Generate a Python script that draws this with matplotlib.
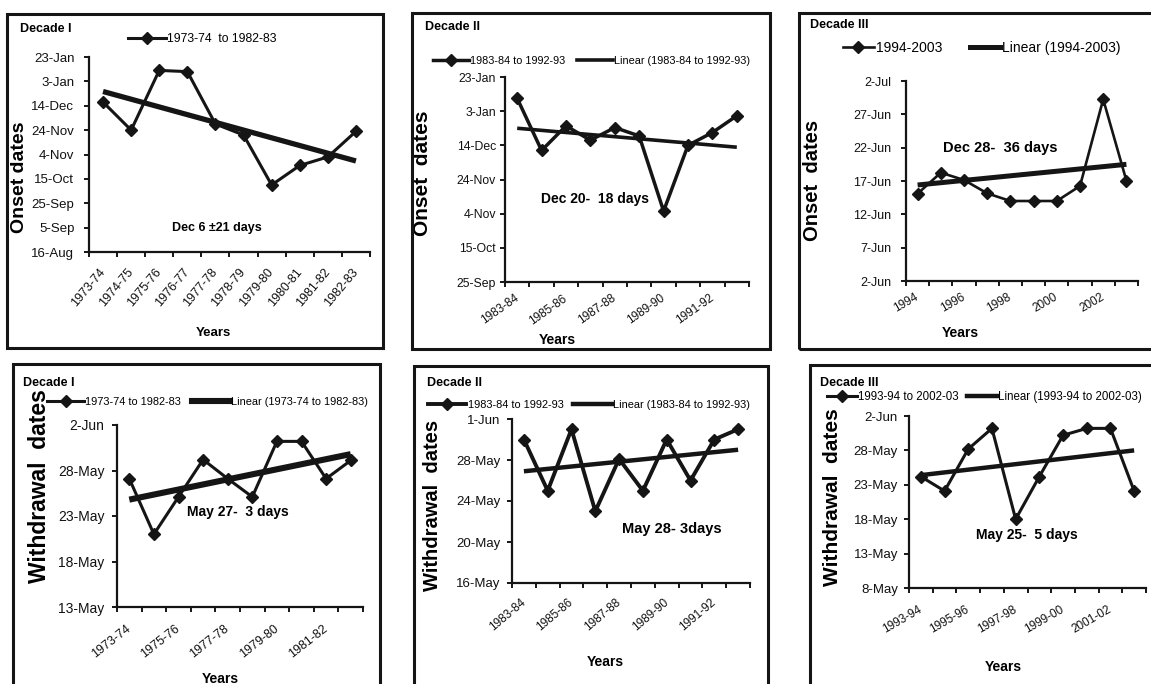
import datetime as dt
import numpy as np
import matplotlib
matplotlib.use("Agg")
import matplotlib.pyplot as plt
from matplotlib.lines import Line2D
from matplotlib.patches import Rectangle
from matplotlib.ticker import FixedLocator, NullFormatter, FixedFormatter

plt.rcParams['font.family'] = ['Liberation Sans', 'DejaVu Sans']

# ---------------- data ----------------
years_d1 = ["1973-74", "1974-75", "1975-76", "1976-77", "1977-78",
            "1978-79", "1979-80", "1980-81", "1981-82", "1982-83"]
years_d2 = ["1983-84", "1984-85", "1985-86", "1986-87", "1987-88",
            "1988-89", "1989-90", "1990-91", "1991-92", "1992-93"]
years_d3_onset = ["1994", "1995", "1996", "1997", "1998",
                  "1999", "2000", "2001", "2002", "2003"]
years_d3_withdrawal = ["1993-94", "1994-95", "1995-96", "1996-97", "1997-98",
                       "1998-99", "1999-00", "2000-01", "2001-02", "2002-03"]

onset_d1 = ["17-Dec", "24-Nov", "12-Jan", "11-Jan", "29-Nov",
            "20-Nov", "10-Oct", "26-Oct", "2-Nov", "23-Nov"]
onset_d1_trend = ["25.7-Dec", "29.7-Oct"]
onset_d1_ticks = ["16-Aug", "5-Sep", "25-Sep", "15-Oct", "4-Nov",
                  "24-Nov", "14-Dec", "3-Jan", "23-Jan"]

onset_d2 = ["10.5-Jan", "11-Dec", "25.4-Dec", "17-Dec", "24.4-Dec",
            "19.5-Dec", "5.5-Nov", "14-Dec", "21.5-Dec", "31.3-Dec"]
onset_d2_trend = ["24-Dec", "12.9-Dec"]
onset_d2_ticks = ["25-Sep", "15-Oct", "4-Nov", "24-Nov", "14-Dec", "3-Jan", "23-Jan"]

onset_d3 = ["15.1-Jun", "18.25-Jun", "17.15-Jun", "15.15-Jun", "14-Jun",
            "14-Jun", "14-Jun", "16.25-Jun", "29.25-Jun", "17.05-Jun"]
onset_d3_trend = ["16.4-Jun", "19.5-Jun"]
onset_d3_ticks = ["2-Jun", "7-Jun", "12-Jun", "17-Jun", "22-Jun", "27-Jun", "2-Jul"]

withdrawal_d1 = ["27.1-May", "21-May", "25.1-May", "29.2-May", "27.1-May",
                 "25.1-May", "31.2-May", "31.2-May", "27.1-May", "29.1-May"]
withdrawal_d1_trend = ["24.8-May", "29.8-May"]
withdrawal_d1_ticks = ["13-May", "18-May", "23-May", "28-May", "2-Jun"]

withdrawal_d2 = ["30-May", "25-May", "31-May", "23-May", "28.1-May",
                 "25-May", "30-May", "26-May", "30-May", "31-May"]
withdrawal_d2_trend = ["26.9-May", "29-May"]
withdrawal_d2_ticks = ["16-May", "20-May", "24-May", "28-May", "1-Jun"]

withdrawal_d3 = ["24.2-May", "22.1-May", "28.2-May", "31.2-May", "18-May",
                 "24.2-May", "30.2-May", "31.2-May", "31.2-May", "22.1-May"]
withdrawal_d3_trend = ["24.4-May", "28-May"]
withdrawal_d3_ticks = ["8-May", "13-May", "18-May", "23-May", "28-May", "2-Jun"]

MONTHS = ["Jan", "Feb", "Mar", "Apr", "May", "Jun", "Jul",
          "Aug", "Sep", "Oct", "Nov", "Dec"]


def to_num(s):
    d, m = s.split("-")
    month = MONTHS.index(m) + 1
    year = 2000 if month >= 8 else 2001
    return dt.date(year, month, 1).toordinal() + float(d) - 1


# ---------------- figure ----------------
W, H = 1151, 684
fig = plt.figure(figsize=(W / 100, H / 100), dpi=100)
fig.patch.set_facecolor("white")
INK = "#151515"


def fx(x):
    return x / W


def fy(y):
    return 1 - y / H


panels = [
    dict(years=years_d1, vals=onset_d1, trend=onset_d1_trend, ticks=onset_d1_ticks,
         box=(89, 370, 57, 252), frame=(7, 14, 383, 348),
         decade="Decade I", dec_xy=(20, 29), dec_fs=9,
         ylabel="Onset dates", yl_xy=(19, 177), yl_fs=14,
         xlabel="Years", xl_xy=(213, 333), xl_fs=9.5,
         note="Dec 6 \u00b121 days", note_xy=(217, 228), note_fs=9,
         legend=["1973-74  to 1982-83"], leg_xy=(128, 39), leg_fs=8.8,
         leg_hl=3.1, leg_cs=1.0, leg_tp=0.1,
         tick_fs=9.5, ypad=7, xtick_fs=9, xrot=50, xpad=13, label_every=1,
         lw=2.2, tlw=3.8, ms=6.5),
    dict(years=years_d2, vals=onset_d2, trend=onset_d2_trend, ticks=onset_d2_ticks,
         box=(505, 749, 77, 282), frame=(412, 13, 770, 349),
         decade="Decade II", dec_xy=(425, 27), dec_fs=9,
         ylabel="Onset  dates", yl_xy=(423, 173), yl_fs=15,
         xlabel="Years", xl_xy=(557, 340), xl_fs=10,
         note="Dec 20-  18 days", note_xy=(595, 199), note_fs=10,
         legend=["1983-84 to 1992-93", "Linear (1983-84 to 1992-93)"],
         leg_xy=(433, 61), leg_fs=7.8, leg_hl=3.3, leg_cs=1.1, leg_tp=0.1,
         tick_fs=8.8, ypad=3, xtick_fs=8.5, xrot=35, xpad=11, label_every=2,
         lw=2.5, tlw=2.6, ms=6.5),
    dict(years=years_d3_onset, vals=onset_d3, trend=onset_d3_trend, ticks=onset_d3_ticks,
         box=(906, 1138, 81, 281), frame=(799, 13, 1165, 349),
         decade="Decade III", dec_xy=(810, 25), dec_fs=9,
         ylabel="Onset  dates", yl_xy=(813, 180), yl_fs=14.5,
         xlabel="Years", xl_xy=(960, 333), xl_fs=10,
         note="Dec 28-  36 days", note_xy=(1000, 148), note_fs=10.5,
         legend=["1994-2003", "Linear (1994-2003)"],
         leg_xy=(843, 48), leg_fs=10, leg_hl=2.2, leg_cs=2.0, leg_tp=0.15,
         tick_fs=9, ypad=7, xtick_fs=8.5, xrot=30, xpad=11, label_every=2,
         lw=1.9, tlw=3.6, ms=6.5),
    dict(years=years_d1, vals=withdrawal_d1, trend=withdrawal_d1_trend, ticks=withdrawal_d1_ticks,
         box=(117, 363, 425, 607), frame=(13, 364, 380, 695),
         decade="Decade I", dec_xy=(23, 383), dec_fs=9,
         ylabel="Withdrawal  dates", yl_xy=(40, 486), yl_fs=16.5,
         xlabel="Years", xl_xy=(220, 679), xl_fs=10,
         note="May 27-  3 days", note_xy=(238, 512), note_fs=10,
         legend=["1973-74 to 1982-83", "Linear (1973-74 to 1982-83)"],
         leg_xy=(47, 402), leg_fs=7.9, leg_hl=3.4, leg_cs=1.0, leg_tp=0.1,
         tick_fs=10, ypad=5.5, xtick_fs=9, xrot=38, xpad=15, label_every=2,
         lw=2.2, tlw=4.4, ms=6.5),
    dict(years=years_d2, vals=withdrawal_d2, trend=withdrawal_d2_trend, ticks=withdrawal_d2_ticks,
         box=(512, 750, 419, 583), frame=(414, 366, 768, 695),
         decade="Decade II", dec_xy=(427, 383), dec_fs=9,
         ylabel="Withdrawal  dates", yl_xy=(433, 505), yl_fs=14.5,
         xlabel="Years", xl_xy=(605, 662), xl_fs=10,
         note="May 28- 3days", note_xy=(672, 529), note_fs=10.5,
         legend=["1983-84 to 1992-93", "Linear (1983-84 to 1992-93)"],
         leg_xy=(428, 405), leg_fs=7.9, leg_hl=3.5, leg_cs=0.9, leg_tp=0.1,
         tick_fs=9.5, ypad=5, xtick_fs=8.5, xrot=40, xpad=13, label_every=2,
         lw=2.8, tlw=3.2, ms=6.5),
    dict(years=years_d3_withdrawal, vals=withdrawal_d3, trend=withdrawal_d3_trend,
         ticks=withdrawal_d3_ticks,
         box=(909, 1146, 416, 588), frame=(810, 365, 1165, 695),
         decade="Decade III", dec_xy=(820, 383), dec_fs=9,
         ylabel="Withdrawal  dates", yl_xy=(833, 497), yl_fs=15,
         xlabel="Years", xl_xy=(1003, 667), xl_fs=10,
         note="May 25-  5 days", note_xy=(1027, 535), note_fs=10,
         legend=["1993-94 to 2002-03", "Linear (1993-94 to 2002-03)"],
         leg_xy=(827, 397), leg_fs=8.3, leg_hl=2.6, leg_cs=0.7, leg_tp=0.1,
         tick_fs=9.5, ypad=4.5, xtick_fs=8.5, xrot=30, xpad=15, label_every=2,
         lw=2.2, tlw=3.2, ms=6.5),
]

for p in panels:
    # frame around each sub-chart
    fx0, fy0, fx1, fy1 = p["frame"]
    fig.add_artist(Rectangle((fx(fx0), fy(fy1)), fx(fx1 - fx0), (fy1 - fy0) / H,
                             transform=fig.transFigure, fill=False, lw=2.2,
                             edgecolor=INK, clip_on=False))

    x0, x1, yt, yb = p["box"]
    ax = fig.add_axes([fx(x0), fy(yb), fx(x1 - x0), (yb - yt) / H])
    ax.set_facecolor("none")

    n = len(p["years"])
    xs = np.arange(n)
    yv = [to_num(v) for v in p["vals"]]
    yt_ = [to_num(v) for v in p["trend"]]
    ticks = [to_num(v) for v in p["ticks"]]

    ax.plot(xs, yv, color=INK, lw=p["lw"], marker="D", ms=p["ms"],
            mfc=INK, mec=INK, zorder=3)
    ax.plot([xs[0], xs[-1]], yt_, color=INK, lw=p["tlw"],
            solid_capstyle="butt", zorder=2)

    ax.set_xlim(-0.5, n - 0.5)
    ax.set_ylim(ticks[0], ticks[-1])

    for side in ("top", "right"):
        ax.spines[side].set_visible(False)
    for side in ("left", "bottom"):
        ax.spines[side].set_linewidth(1.6)
        ax.spines[side].set_color(INK)

    ax.yaxis.set_major_locator(FixedLocator(ticks))
    ax.yaxis.set_major_formatter(FixedFormatter(p["ticks"]))
    ax.tick_params(axis="y", direction="out", length=3.5, width=1.4, color=INK,
                   labelsize=p["tick_fs"], pad=p["ypad"], labelcolor="#111111")

    ax.xaxis.set_major_locator(FixedLocator(np.arange(n + 1) - 0.5))
    ax.xaxis.set_major_formatter(NullFormatter())
    lab_pos = xs[::p["label_every"]]
    ax.xaxis.set_minor_locator(FixedLocator(lab_pos))
    ax.xaxis.set_minor_formatter(FixedFormatter(p["years"][::p["label_every"]]))
    ax.tick_params(axis="x", which="major", direction="out", length=3.5, width=1.4,
                   color=INK)
    ax.tick_params(axis="x", which="minor", length=0, pad=p["xpad"],
                   labelsize=p["xtick_fs"], labelcolor="#111111")
    for t in ax.get_xticklabels(minor=True):
        t.set_rotation(p["xrot"])
        t.set_ha("right")
        t.set_va("center")
        t.set_rotation_mode("anchor")

    # axis titles
    ax.set_ylabel(p["ylabel"], fontsize=p["yl_fs"], fontweight="bold",
                  va="center", ha="center")
    ax.yaxis.set_label_coords((p["yl_xy"][0] - x0) / (x1 - x0),
                              (yb - p["yl_xy"][1]) / (yb - yt))
    ax.set_xlabel(p["xlabel"], fontsize=p["xl_fs"], fontweight="bold",
                  va="center", ha="center")
    ax.xaxis.set_label_coords((p["xl_xy"][0] - x0) / (x1 - x0),
                              (yb - p["xl_xy"][1]) / (yb - yt))

    # annotation and decade tag
    fig.text(fx(p["note_xy"][0]), fy(p["note_xy"][1]), p["note"],
             fontsize=p["note_fs"], fontweight="bold", ha="center", va="center")
    fig.text(fx(p["dec_xy"][0]), fy(p["dec_xy"][1]), p["decade"],
             fontsize=p["dec_fs"], fontweight="bold", ha="left", va="center")

    # legend
    handles = [Line2D([], [], color=INK, lw=p["lw"], marker="D", ms=p["ms"] - 0.5,
                      mfc=INK, mec=INK)]
    if len(p["legend"]) > 1:
        handles.append(Line2D([], [], color=INK, lw=p["tlw"]))
    ax.legend(handles, p["legend"], loc="center left",
              bbox_to_anchor=(fx(p["leg_xy"][0]), fy(p["leg_xy"][1])),
              bbox_transform=fig.transFigure, frameon=False, ncol=len(handles),
              fontsize=p["leg_fs"], handlelength=p["leg_hl"],
              handletextpad=p["leg_tp"],
              columnspacing=p["leg_cs"], borderpad=0, borderaxespad=0,
              numpoints=1)

fig.savefig("out.png", dpi=100, facecolor="white")
